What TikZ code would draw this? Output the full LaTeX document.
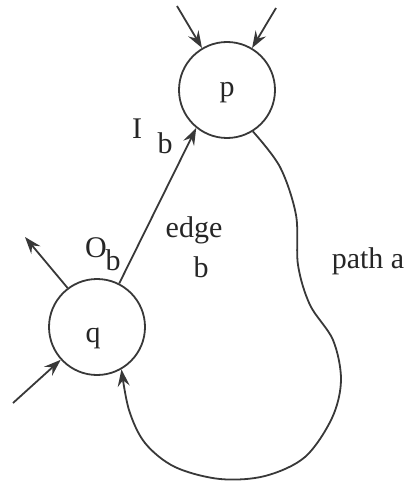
\documentclass[tikz,border=0pt]{standalone}
\usepackage{fontspec}
\setmainfont{Liberation Serif}
\usetikzlibrary{arrows.meta}
\begin{document}
\begin{tikzpicture}[x=1pt,y=-1pt,
  ink/.style={draw=black!78, line width=1.8pt},
  state/.style={ink, circle, minimum size=96pt, inner sep=0pt},
  arr/.style={ink, -{Stealth[length=17pt,width=12pt,inset=6pt]}},
  lbl/.style={anchor=base, inner sep=0pt, font=\fontsize{30}{35}\selectfont, text=black!85}]
\useasboundingbox (0,0) rectangle (410,484);
\node[state] (p) at (227,90) {};
\node[state] (q) at (97,327) {};
\node[lbl] (pl) at (227,97) {p};
\node[lbl] (ql) at (93,342) {q};
\coordinate (inA) at (177,6);
\coordinate (inB) at (276,8);
\coordinate (outq) at (25,237);
\coordinate (inq) at (13,403);
\draw[arr] (inA) -- (p);
\draw[arr] (inB) -- (p);
\draw[arr] (q.127) -- (outq);
\draw[arr] (inq) -- (q);
\draw[arr] (q.63) -- (p.-129);
\draw[arr] plot[smooth, tension=0.55] coordinates {(p.-58) (280,167) (296,215) (298,265) (310,305) (333,340) (341,380) (332,418) (305,457) (265,476) (220,479) (175,467) (145,443) (129,410) (q.-60)};
\node[lbl] (I) at (137,138) {I};
\node[lbl] (Ib) at (165,153) {b};
\node[lbl] (O) at (96,257) {O};
\node[lbl] (Ob) at (113,270) {b};
\node[lbl] (edge) at (194,237) {edge};
\node[lbl] (edgeb) at (201,277) {b};
\node[lbl] (path) at (368,268) {path a};
\end{tikzpicture}
\end{document}
